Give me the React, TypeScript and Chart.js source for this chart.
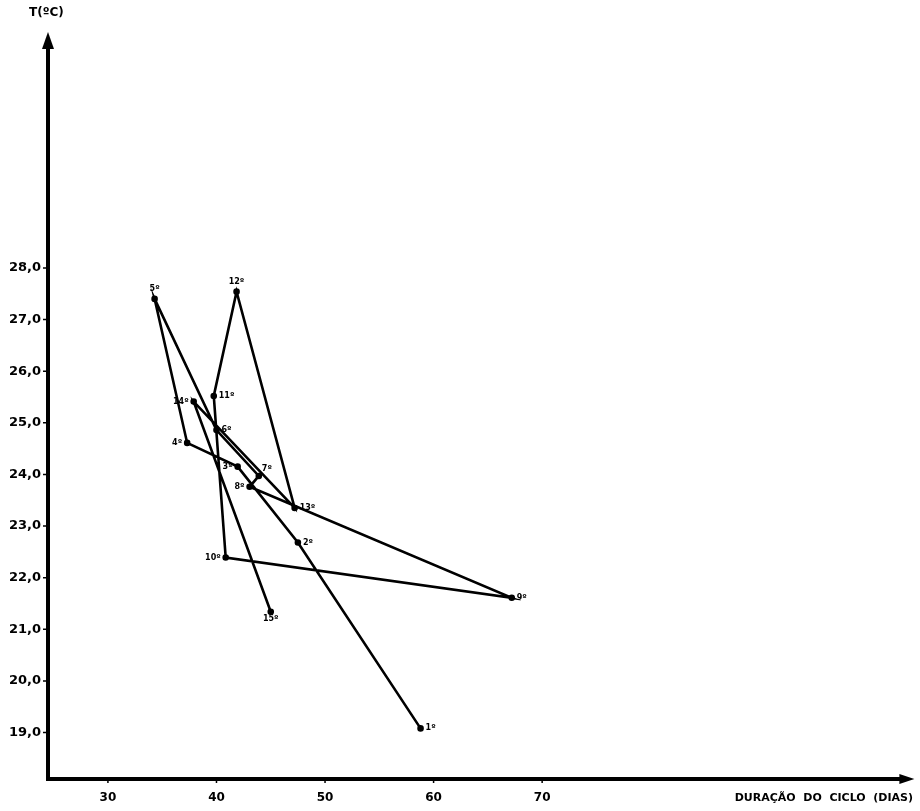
import { useEffect, useRef } from "react";
import { Chart, registerables } from "chart.js";

Chart.register(...registerables);

// Order of each cycle (label shown next to each point)
const cycleLabels = ["1º", "2º", "3º", "4º", "5º", "6º", "7º", "8º", "9º", "10º", "11º", "12º", "13º", "14º", "15º"];
// Cycle duration (days)
const durationDays = [58.8, 47.5, 41.95, 37.3, 34.3, 40.0, 43.9, 43.05, 67.2, 40.85, 39.75, 41.85, 47.2, 37.9, 45.0];
// Mean temperature (ºC)
const temperatureC = [19.08, 22.68, 24.15, 24.61, 27.4, 24.86, 23.97, 23.76, 21.61, 22.39, 25.52, 27.54, 23.35, 25.41, 21.34];

const xTickValues = [30, 40, 50, 60, 70];
const yTickValues = [19, 20, 21, 22, 23, 24, 25, 26, 27, 28];

const yAxisTitle = "T(ºC)";
const xAxisTitle = "DURAÇÃO  DO  CICLO  (DIAS)";

// where each point label sits relative to its point
const labelPlacement = [
  "right", "right", "left", "left", "above", "right", "aboveRight", "left",
  "right", "left", "right", "above", "right", "left", "below",
];

export default function App() {
  const canvasRef = useRef<HTMLCanvasElement | null>(null);

  useEffect(() => {
    const canvas = canvasRef.current;
    if (!canvas) return;

    const decorations = {
      id: "decorations",
      afterDraw(chart: any) {
        const ctx = chart.ctx as CanvasRenderingContext2D;
        const { left, right, top, bottom } = chart.chartArea;
        const xs = chart.scales.x;
        const ys = chart.scales.y;
        ctx.save();
        ctx.fillStyle = "#000";
        ctx.strokeStyle = "#000";

        // axes
        ctx.lineWidth = 4;
        ctx.beginPath();
        ctx.moveTo(left, top + 14);
        ctx.lineTo(left, bottom + 2);
        ctx.moveTo(left - 2, bottom);
        ctx.lineTo(right - 12, bottom);
        ctx.stroke();
        // arrowheads
        ctx.beginPath();
        ctx.moveTo(left, top - 1);
        ctx.lineTo(left - 6, top + 16);
        ctx.lineTo(left + 6, top + 16);
        ctx.closePath();
        ctx.fill();
        ctx.beginPath();
        ctx.moveTo(right + 1, bottom);
        ctx.lineTo(right - 14, bottom - 5);
        ctx.lineTo(right - 14, bottom + 5);
        ctx.closePath();
        ctx.fill();

        // tick marks
        ctx.lineWidth = 1.5;
        ctx.beginPath();
        yTickValues.forEach((v) => {
          const py = ys.getPixelForValue(v);
          ctx.moveTo(left - 5, py);
          ctx.lineTo(left, py);
        });
        xTickValues.forEach((v) => {
          const px = xs.getPixelForValue(v);
          ctx.moveTo(px, bottom);
          ctx.lineTo(px, bottom + 4);
        });
        ctx.stroke();

        // titles
        ctx.font = "bold 12px 'DejaVu Sans'";
        ctx.textBaseline = "middle";
        ctx.textAlign = "left";
        ctx.fillText(yAxisTitle, 29, 13);
        ctx.textAlign = "right";
        ctx.font = "bold 11px 'DejaVu Sans'";
        ctx.fillText(xAxisTitle, 913, 798);

        // point labels
        ctx.font = "bold 8px 'DejaVu Sans'";
        const meta = chart.getDatasetMeta(0);
        meta.data.forEach((pt: any, i: number) => {
          const p = labelPlacement[i];
          let x = pt.x;
          let y = pt.y;
          if (p === "right") {
            ctx.textAlign = "left";
            x += 5;
          } else if (p === "left") {
            ctx.textAlign = "right";
            x -= 5;
          } else if (p === "above") {
            ctx.textAlign = "center";
            y -= 10;
          } else if (p === "below") {
            ctx.textAlign = "center";
            y += 7;
          } else {
            ctx.textAlign = "left";
            x += 3;
            y -= 7;
          }
          ctx.fillText(cycleLabels[i], x, y);
        });
        ctx.restore();
      },
    };

    const chart = new Chart(canvas, {
      type: "scatter",
      data: {
        datasets: [
          {
            data: durationDays.map((d, i) => ({ x: d, y: temperatureC[i] })),
            showLine: true,
            borderColor: "#000",
            borderWidth: 2.6,
            pointRadius: 2,
            pointBackgroundColor: "#000",
            pointBorderColor: "#000",
            tension: 0,
          },
        ],
      },
      options: {
        animation: false,
        responsive: false,
        layout: { padding: { top: 33, right: 5, left: 0, bottom: 0 } },
        plugins: { legend: { display: false }, tooltip: { enabled: false } },
        scales: {
          x: {
            type: "linear",
            min: 24.48,
            max: 104.2,
            grid: { display: false, drawTicks: false },
            border: { display: false },
            afterBuildTicks: (s: any) => {
              s.ticks = xTickValues.map((v) => ({ value: v }));
            },
            afterFit: (s: any) => {
              s.height = 32;
            },
            ticks: {
              autoSkip: false,
              maxRotation: 0,
              padding: 12,
              color: "#000",
              font: { family: "'DejaVu Sans'", size: 12, weight: "bold" },
              callback: (v: any) => String(v),
            },
          },
          y: {
            type: "linear",
            min: 18.1,
            max: 32.55,
            grid: { display: false, drawTicks: false },
            border: { display: false },
            afterBuildTicks: (s: any) => {
              s.ticks = yTickValues.map((v) => ({ value: v }));
            },
            afterFit: (s: any) => {
              s.width = 48;
            },
            ticks: {
              autoSkip: false,
              padding: 7,
              color: "#000",
              font: { family: "'DejaVu Sans'", size: 13, weight: "bold" },
              callback: (v: any) => Number(v).toFixed(1).replace(".", ","),
            },
          },
        },
      },
      plugins: [decorations],
    });

    return () => chart.destroy();
  }, []);

  return (
    <div style={{ position: "absolute", left: 0, top: 0, width: 920, height: 811, background: "#fff" }}>
      <canvas ref={canvasRef} width={920} height={811} style={{ display: "block" }} />
    </div>
  );
}
